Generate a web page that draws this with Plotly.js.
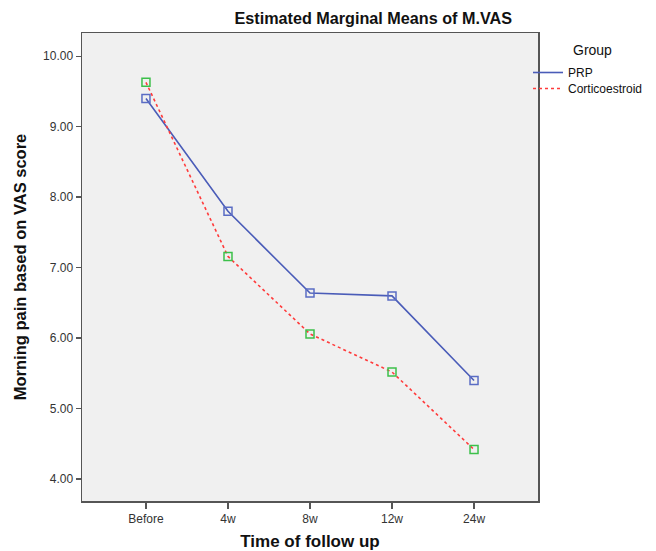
<!DOCTYPE html>
<html>
<head>
<meta charset="utf-8">
<script src="https://cdn.plot.ly/plotly-3.0.1.min.js"></script>
<style>
html, body { margin: 0; padding: 0; background: #ffffff; }
#chart { width: 656px; height: 551px; }
</style>
</head>
<body>
<div id="chart"></div>
<script>
// Data
var timePoints = ["Before", "4w", "8w", "12w", "24w"];
var prpMeans = [9.40, 7.80, 6.64, 6.60, 5.40];
var corticoMeans = [9.63, 7.16, 6.06, 5.52, 4.42];
var seriesNames = ["PRP", "Corticoestroid"];
var yTickValues = [4, 5, 6, 7, 8, 9, 10];

var fontFamily = "'Liberation Sans', Arial, sans-serif";

var traces = [
  {
    x: timePoints, y: prpMeans, name: seriesNames[0], type: "scatter", mode: "lines",
    line: { color: "#4a5cb8", width: 1.6 }, showlegend: true, legend: "legend", hoverinfo: "skip"
  },
  {
    x: timePoints, y: corticoMeans, name: seriesNames[1], type: "scatter", mode: "lines",
    line: { color: "#ff3b3b", width: 1.6, dash: "dot" }, showlegend: true, legend: "legend2", hoverinfo: "skip"
  },
  {
    x: timePoints, y: prpMeans, name: seriesNames[0], type: "scatter", mode: "markers",
    marker: { symbol: "square-open", size: 8, color: "#5a6cc4", line: { width: 1.5 } },
    showlegend: false
  },
  {
    x: timePoints, y: corticoMeans, name: seriesNames[1], type: "scatter", mode: "markers",
    marker: { symbol: "square-open", size: 8, color: "#3cc04a", line: { width: 1.5 } },
    showlegend: false
  }
];

function legendAt(leftPx, topPx) {
  return {
    xref: "container", x: leftPx / 656, xanchor: "left",
    yref: "container", y: 1 - topPx / 551, yanchor: "top",
    itemwidth: 30,
    font: { family: fontFamily, size: 12, color: "#111111" },
    bgcolor: "rgba(0,0,0,0)",
    borderwidth: 0
  };
}

var layout = {
  width: 656, height: 551,
  margin: { l: 82, r: 118, t: 33, b: 50, autoexpand: false },
  paper_bgcolor: "#ffffff",
  plot_bgcolor: "#f0f0f0",
  font: { family: fontFamily, size: 12, color: "#333333" },
  title: {
    text: "<b>Estimated Marginal Means of M.VAS</b>",
    font: { family: fontFamily, size: 16.2, color: "#111111" },
    xref: "container", x: 0.569, xanchor: "center",
    yref: "container", y: 0.967, yanchor: "middle"
  },
  xaxis: {
    type: "category",
    categoryorder: "array", categoryarray: timePoints,
    range: [-0.78, 4.78],
    showgrid: false, zeroline: false,
    showline: true, linecolor: "#555555", linewidth: 1.5, mirror: true,
    ticks: "outside", ticklen: 6, tickcolor: "#555555", tickwidth: 1.5,
    tickfont: { family: fontFamily, size: 12, color: "#333333" },
    title: {
      text: "<b>Time of follow up</b>",
      font: { family: fontFamily, size: 17, color: "#111111" },
      standoff: 11
    }
  },
  yaxis: {
    range: [3.69, 10.33],
    tickvals: yTickValues,
    tickformat: ".2f",
    showgrid: false, zeroline: false,
    showline: true, linecolor: "#555555", linewidth: 1.5, mirror: true,
    ticks: "outside", ticklen: 5, tickcolor: "#555555", tickwidth: 1.5,
    tickfont: { family: fontFamily, size: 12, color: "#333333" },
    title: {
      text: "<b>Morning pain based on VAS score</b>",
      font: { family: fontFamily, size: 16.5, color: "#111111" },
      standoff: 12
    }
  },
  showlegend: true,
  legend: legendAt(528, 58),
  legend2: legendAt(528, 74),
  annotations: [
    {
      text: "Group", xref: "paper", yref: "paper",
      x: (592 - 82) / 456, y: 1 - (50 - 33) / 468,
      xanchor: "center", yanchor: "middle", showarrow: false,
      font: { family: fontFamily, size: 14, color: "#111111" }
    }
  ]
};

Plotly.newPlot("chart", traces, layout, { displayModeBar: false, staticPlot: true });
</script>
</body>
</html>
